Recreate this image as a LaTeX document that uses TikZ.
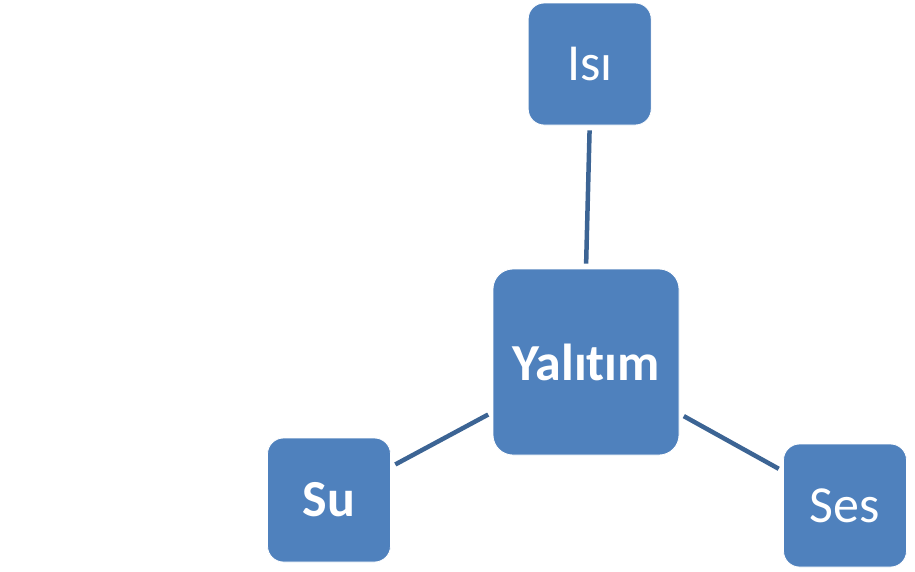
\documentclass[tikz,border=0pt]{standalone}
\usepackage{fontspec}
\setmainfont[Ligatures=NoCommon]{Carlito}
\definecolor{boxblue}{HTML}{4F81BD}
\definecolor{linkblue}{HTML}{3C6494}
\begin{document}
\begin{tikzpicture}[x=1pt,y=-1pt,
  box/.style={fill=boxblue,draw=white,line width=0.8pt,rounded corners=16pt,inner sep=0pt,
    text=white,font=\fontsize{52}{60}\selectfont},
  link/.style={draw=linkblue,line width=4.5pt,shorten <=5pt,shorten >=5pt}]
\useasboundingbox (0,0) rectangle (915,571);
\node[box,minimum width=123pt,minimum height=122pt] (isi) at (589.7,64) {Isı};
\node[box,minimum width=186pt,minimum height=186pt,rounded corners=20pt,font=\fontsize{52}{60}\selectfont\bfseries] (yal) at (586,362) {Yalıtım};
\node[box,minimum width=123pt,minimum height=124pt,font=\fontsize{52}{60}\selectfont\bfseries] (su) at (329,500) {Su};
\node[box,minimum width=123pt,minimum height=123pt] (ses) at (845,505.5) {Ses};
\path[link] (isi.south) -- (yal.north);
\path[link] (su) -- (yal);
\path[link] (yal) -- (ses);
\end{tikzpicture}
\end{document}
